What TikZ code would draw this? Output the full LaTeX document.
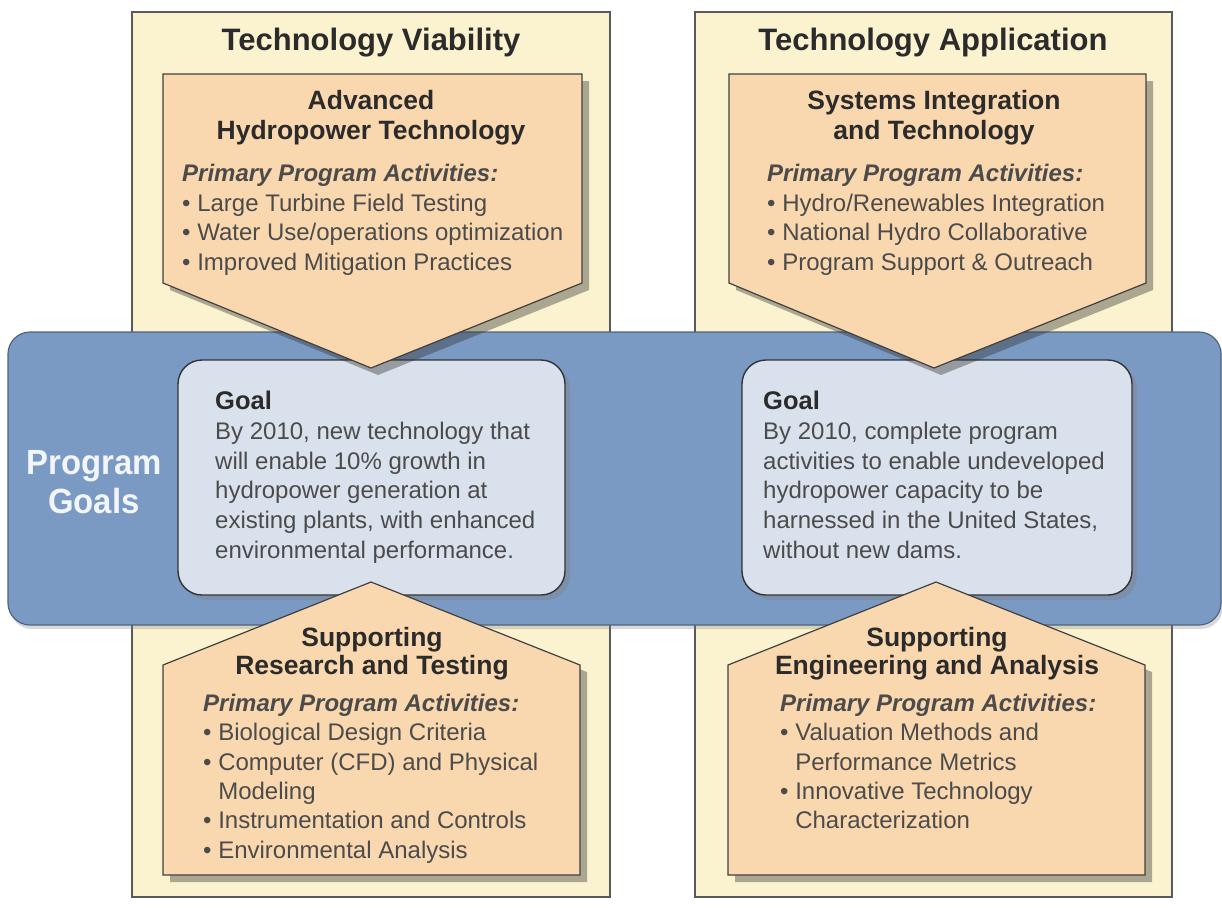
\documentclass[tikz,border=0pt]{standalone}
\usepackage{fontspec}
\setmainfont{Liberation Sans}
\usepackage{tikz}
\usetikzlibrary{shadows}
\usepackage{xcolor}
\definecolor{columnyellow}{HTML}{FBF3CF}
\definecolor{arrowpeach}{HTML}{FAD8AF}
\definecolor{bandblue}{HTML}{7A9AC3}
\definecolor{goalblue}{HTML}{D9E1EC}
\definecolor{inkgray}{HTML}{2B2B2B}
\tikzset{%
	column box/.style={
		draw=black!65,
		line width=1.2pt,
		fill=columnyellow
	},
	goal band/.style={
		draw=bandblue!65!black,
		line width=1.2pt,
		fill=bandblue,
		rounded corners=22pt,
		drop shadow={shadow xshift=2pt, shadow yshift=-4pt, opacity=0.3}
	},
	goal box/.style={
		draw=black!80,
		line width=1.4pt,
		fill=goalblue,
		rounded corners=24pt,
		drop shadow={shadow xshift=5pt, shadow yshift=-5pt, opacity=0.35}
	},
	activity arrow/.style={
		draw=black!75,
		line width=1.2pt,
		fill=arrowpeach,
		drop shadow={shadow xshift=7pt, shadow yshift=-7pt, opacity=0.4, fill=black!80}
	},
	column title/.style={
		font=\fontsize{31}{34}\selectfont\bfseries,
		text=inkgray,
		inner sep=0pt
	},
	arrow heading/.style={
		font=\fontsize{26.5}{30}\selectfont\bfseries,
		text=inkgray,
		align=center,
		inner sep=0pt,
		anchor=north
	},
	activity list/.style={
		font=\fontsize{24}{29.7}\selectfont,
		text=inkgray!85,
		align=left,
		inner sep=0pt,
		anchor=north west
	},
}
\newcommand{\acthead}{\textbf{\textit{Primary Program Activities:}}}
\newcommand{\bul}{\textbullet\ }
\newcommand{\cnt}{\hphantom{\textbullet\ }}

\begin{document}
\begin{tikzpicture}[x=1pt, y=-1pt]
	\useasboundingbox (0,0) rectangle (1222,907);
	
	% Two yellow columns
	\draw[column box] (132,12) rectangle (610,897);
	\draw[column box] (695,12) rectangle (1172,897);
	\node[column title] (tv-title) at (371,43) {Technology Viability};
	\node[column title] (ta-title) at (933,43) {Technology Application};
	
	% Blue band across both columns
	\draw[goal band] (8,332) rectangle (1221,625);
	\node[font=\fontsize{35}{39}\selectfont\bfseries, text=white!90!bandblue, align=center, xscale=0.94] (prog-goals) at (94,482) {Program\\Goals};
	
	% Goal boxes
	\draw[goal box] (178,360) rectangle (565,595);
	\draw[goal box] (742,360) rectangle (1132,595);
	
	% Arrows into the goals
	\draw[activity arrow] (163,74) -- (582,74) -- (582,283) -- (371,368) -- (163,283) -- cycle;
	\draw[activity arrow] (729,74) -- (1146,74) -- (1146,283) -- (934,368) -- (729,283) -- cycle;
	\draw[activity arrow] (163,875) -- (163,665) -- (371,582) -- (580,665) -- (580,875) -- cycle;
	\draw[activity arrow] (728,875) -- (728,665) -- (936,582) -- (1145,665) -- (1145,875) -- cycle;
	
	% Goal texts
	\node[activity list] (goal-left) at (215,391) {{\fontsize{25.5}{29.5}\selectfont\bfseries\color{inkgray}Goal}\\
		By 2010, new technology that\\
		will enable 10\% growth in\\
		hydropower generation at\\
		existing plants, with enhanced\\
		environmental performance.};
	\node[activity list] (goal-right) at (763,391) {{\fontsize{25.5}{29.5}\selectfont\bfseries\color{inkgray}Goal}\\
		By 2010, complete program\\
		activities to enable undeveloped\\
		hydropower capacity to be\\
		harnessed in the United States,\\
		without new dams.};
	
	% Top left arrow
	\node[arrow heading] (aht-head) at (371,90) {Advanced\\Hydropower Technology};
	\node[activity list] (aht-list) at (182,164) {\acthead\\
		\bul Large Turbine Field Testing\\
		\bul Water Use/operations optimization\\
		\bul Improved Mitigation Practices};
	
	% Top right arrow
	\node[arrow heading] (sit-head) at (934,90) {Systems Integration\\and Technology};
	\node[activity list] (sit-list) at (767,164) {\acthead\\
		\bul Hydro/Renewables Integration\\
		\bul National Hydro Collaborative\\
		\bul Program Support \& Outreach};
	
	% Bottom left arrow
	\node[arrow heading, font=\fontsize{26.5}{28.5}\selectfont\bfseries] (srt-head) at (372,627) {Supporting\\Research and Testing};
	\node[activity list, font=\fontsize{24}{29.3}\selectfont] (srt-list) at (203,694) {\acthead\\
		\bul Biological Design Criteria\\
		\bul Computer (CFD) and Physical\\
		\cnt Modeling\\
		\bul Instrumentation and Controls\\
		\bul Environmental Analysis};
	
	% Bottom right arrow
	\node[arrow heading, font=\fontsize{26.5}{28.5}\selectfont\bfseries] (sea-head) at (937,627) {Supporting\\Engineering and Analysis};
	\node[activity list, font=\fontsize{24}{29.3}\selectfont] (sea-list) at (780,694) {\acthead\\
		\bul Valuation Methods and\\
		\cnt Performance Metrics\\
		\bul Innovative Technology\\
		\cnt Characterization};
\end{tikzpicture}
\end{document}
